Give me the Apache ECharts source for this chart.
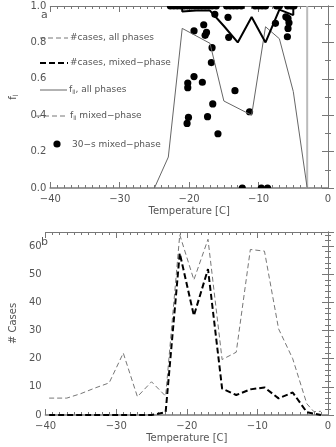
<!DOCTYPE html>
<html><head><meta charset="utf-8">
<script src="https://cdn.jsdelivr.net/npm/echarts@6/dist/echarts.min.js"></script>
<style>html,body{margin:0;padding:0;background:#fff}#c{width:336px;height:447px}</style>
</head><body><div id="c"></div>
<script>
// ---------- Panel a data ----------
var fllAllT = [-25, -23, -21, -17, -15, -11, -9, -7, -5, -3];
var fllAll  = [0, 0.17, 0.877, 0.795, 0.478, 0.40, 0.886, 0.82, 0.53, 0];
var fllMixT = [-21, -21, -19, -17, -15, -13, -11, -9, -7, -5, -5];
var fllMix  = [1.0, 0.97, 0.975, 0.975, 0.89, 0.80, 0.94, 0.80, 0.98, 0.95, 1.0];
var dotT = [-22.7,-22.2,-21.7,-21.2,-20.7,-20.2,-19.7,-19.2,-18.7,-18.2,-17.7,-17.2,-16.7,-16.1,
            -14.6,-14.1,-13.6,-13.1,-12.5,-10.5,-10.0,-9.5,-9.0,-7.4,-7.0,-5.8,-5.3,-4.9,
            -16.3,-14.4,-17.9,-19.3,-17.5,-17.7,-14.3,-16.7,-16.8,-18.1,-20.2,-20.2,-19.3,-13.4,-16.6,
            -7.57,-6.07,-5.76,-5.62,-5.76,-5.85,-20.1,-20.3,-17.35,-11.3,-15.85,-12.35,-9.6,-8.7];
var dotF = [1,1,1,1,1,1,1,1,1,1,1,1,1,1,
            1,1,1,1,1,1,1,1,1,1,1,1,1,1,
            0.954,0.938,0.897,0.863,0.855,0.839,0.828,0.771,0.689,0.581,0.577,0.551,0.612,0.535,0.462,
            0.905,0.941,0.932,0.908,0.877,0.831,0.388,0.355,0.392,0.419,0.298,0,0,0];
var refT = [-3, -3];
var refF = [0, 1];
// ---------- Panel b data ----------
var casesAllT = [-39.5,-37,-35,-33,-31,-29,-27,-25,-23,-21,-19,-17,-15,-13,-11,-9,-7,-5,-3,-2,-1];
var casesAll  = [6,6,7.6,9.6,11.4,22,6.5,11.8,6.7,64,48,62.4,19.7,22.3,58.8,58.2,30.6,20,4,1.2,1.3];
var casesMixT = [-39.5,-37,-35,-33,-31,-29,-27,-25,-23,-21,-19,-17,-15,-13,-11,-9,-7,-5,-3,-1];
var casesMix  = [0,0,0,0,0,0,0,0,1,57.5,35.3,51.8,9.4,7.1,9.1,9.8,5.9,8.0,1.0,0];
var xTicks = [-40, -30, -20, -10, 0];

function zip(a, b) { return a.map(function (v, i) { return [v, b[i]]; }); }

var FONT = 'DejaVu Sans';
var TXT = '#555';
var AX = '#777';
var chart = echarts.init(document.getElementById('c'), null, {renderer: 'canvas'});

function xAx(grid, pos, showLabel) {
  return {
    type: 'value', gridIndex: grid, position: pos, min: -40, max: 0, interval: 10,
    axisLine: {onZero: false, lineStyle: {color: pos === 'bottom' ? '#999' : AX, width: pos === 'bottom' ? 2 : 1}},
    axisTick: {inside: true, length: 6, lineStyle: {color: AX}},
    minorTick: {show: true, splitNumber: 10, length: 3, lineStyle: {color: AX}},
    splitLine: {show: false},
    axisLabel: {show: showLabel, color: TXT, fontFamily: FONT, fontSize: 10, margin: 6,
      formatter: function (v) { return xTicks.indexOf(v) >= 0 ? (v < 0 ? '\u2212' + (-v) : '' + v) : ''; }},
    name: showLabel ? 'Temperature [C]' : '', nameLocation: 'middle', nameGap: 18,
    nameTextStyle: {color: TXT, fontFamily: FONT, fontSize: 10}
  };
}

var option = {
  animation: false,
  backgroundColor: '#fff',
  grid: [
    {left: 34, right: 8, top: 6, height: 182},
    {left: 34, right: 8, top: 232, height: 183}
  ],
  xAxis: [xAx(0, 'bottom', true), xAx(0, 'top', false), xAx(1, 'bottom', true), xAx(1, 'top', false)],
  yAxis: [
    {type: 'value', gridIndex: 0, position: 'left', min: 0, max: 1, interval: 0.2,
      axisLine: {show: true, lineStyle: {color: AX}},
      axisTick: {inside: true, length: 6, lineStyle: {color: AX}},
      minorTick: {show: true, splitNumber: 2, length: 3, lineStyle: {color: AX}},
      splitLine: {show: false},
      axisLabel: {color: TXT, fontFamily: FONT, fontSize: 10, margin: 4, formatter: function (v) { return v.toFixed(1); }},
      name: '{m|f}{s|l}', nameLocation: 'middle', nameGap: 27, nameRotate: 90,
      nameTextStyle: {rich: {m: {color: TXT, fontFamily: FONT, fontSize: 10}, s: {color: TXT, fontFamily: FONT, fontSize: 7, verticalAlign: 'bottom', padding: [6, 0, 0, 0]}}}},
    {type: 'value', gridIndex: 0, position: 'right', min: 0, max: 1, interval: 0.2,
      axisLine: {show: true, lineStyle: {color: AX}},
      axisTick: {inside: true, length: 6, lineStyle: {color: AX}},
      minorTick: {show: true, splitNumber: 2, length: 3, lineStyle: {color: AX}},
      splitLine: {show: false}, axisLabel: {show: false}},
    {type: 'value', gridIndex: 1, position: 'left', min: 0, max: 65, interval: 10,
      axisLine: {show: true, lineStyle: {color: AX}},
      axisTick: {inside: true, length: 6, lineStyle: {color: AX}},
      minorTick: {show: true, splitNumber: 5, length: 3, lineStyle: {color: AX}},
      splitLine: {show: false}, showMaxLabel: false,
      axisLabel: {color: TXT, fontFamily: FONT, fontSize: 10, margin: 4, formatter: function (v) { return v % 10 === 0 ? '' + v : ''; }},
      name: '# Cases', nameLocation: 'middle', nameGap: 24, nameRotate: 90,
      nameTextStyle: {color: TXT, fontFamily: FONT, fontSize: 10}},
    {type: 'value', gridIndex: 1, position: 'right', min: 0, max: 65, interval: 10,
      axisLine: {show: true, lineStyle: {color: AX}},
      axisTick: {inside: true, length: 6, lineStyle: {color: AX}},
      minorTick: {show: true, splitNumber: 5, length: 3, lineStyle: {color: AX}},
      splitLine: {show: false}, axisLabel: {show: false}}
  ],
  series: [
    {type: 'line', xAxisIndex: 0, yAxisIndex: 0, data: zip(refT, refF), symbol: 'none',
      lineStyle: {color: '#bbb', width: 2}, z: 1},
    {type: 'line', xAxisIndex: 0, yAxisIndex: 0, data: zip(fllAllT, fllAll), symbol: 'none',
      lineStyle: {color: '#666', width: 1}},
    {type: 'line', xAxisIndex: 0, yAxisIndex: 0, data: zip(fllMixT, fllMix), symbol: 'none',
      lineStyle: {color: '#000', width: 2}},
    {type: 'custom', xAxisIndex: 0, yAxisIndex: 0, data: zip(dotT, dotF), clip: true, z: 3,
      renderItem: function (params, api) {
        var p = api.coord([api.value(0), api.value(1)]);
        return {type: 'circle', shape: {cx: p[0], cy: p[1], r: 3.6}, style: {fill: '#000'}};
      }},
    {type: 'line', xAxisIndex: 2, yAxisIndex: 2, data: zip(casesAllT, casesAll), symbol: 'none',
      lineStyle: {color: '#777', width: 1, type: [5, 3]}},
    {type: 'line', xAxisIndex: 2, yAxisIndex: 2, data: zip(casesMixT, casesMix), symbol: 'none',
      lineStyle: {color: '#000', width: 2, type: [6, 3]}}
  ],
  graphic: [
    {type: 'text', left: 41, top: 10, style: {text: 'a', fill: TXT, font: '11px "DejaVu Sans"'}},
    {type: 'text', left: 41, top: 237, style: {text: 'b', fill: TXT, font: '11px "DejaVu Sans"'}},
    {type: 'line', shape: {x1: 40, y1: 38, x2: 68, y2: 38}, style: {stroke: '#777', lineWidth: 1, lineDash: [5, 3]}},
    {type: 'text', x: 70, y: 38, style: {text: '#cases, all phases', fill: TXT, font: '9px "DejaVu Sans"', verticalAlign: 'middle', align: 'left'}},
    {type: 'line', shape: {x1: 40, y1: 63, x2: 68, y2: 63}, style: {stroke: '#000', lineWidth: 2, lineDash: [6, 3]}},
    {type: 'text', x: 70, y: 63, style: {text: '#cases, mixed\u2212phase', fill: TXT, font: '9px "DejaVu Sans"', verticalAlign: 'middle', align: 'left'}},
    {type: 'line', shape: {x1: 40, y1: 90, x2: 67, y2: 90}, style: {stroke: '#666', lineWidth: 1}},
    {type: 'text', x: 69, y: 90, style: {text: '{m|f}{s|ll}{m|, all phases}', verticalAlign: 'middle', align: 'left',
      rich: {m: {fill: TXT, fontFamily: FONT, fontSize: 9}, s: {fill: TXT, fontFamily: FONT, fontSize: 6, padding: [5, 0, 0, 0]}}}},
    {type: 'line', shape: {x1: 36, y1: 116, x2: 68, y2: 116}, style: {stroke: '#777', lineWidth: 1, lineDash: [5, 3]}},
    {type: 'text', x: 70, y: 116, style: {text: '{m|f}{s|ll}{m| mixed\u2212phase}', verticalAlign: 'middle', align: 'left',
      rich: {m: {fill: TXT, fontFamily: FONT, fontSize: 9}, s: {fill: TXT, fontFamily: FONT, fontSize: 6, padding: [5, 0, 0, 0]}}}},
    {type: 'circle', shape: {cx: 57, cy: 144, r: 3.6}, style: {fill: '#000'}},
    {type: 'text', x: 72, y: 145, style: {text: '30\u2212s mixed\u2212phase', fill: TXT, font: '9px "DejaVu Sans"', verticalAlign: 'middle', align: 'left'}}
  ]
};
chart.setOption(option);
</script>
</body></html>
